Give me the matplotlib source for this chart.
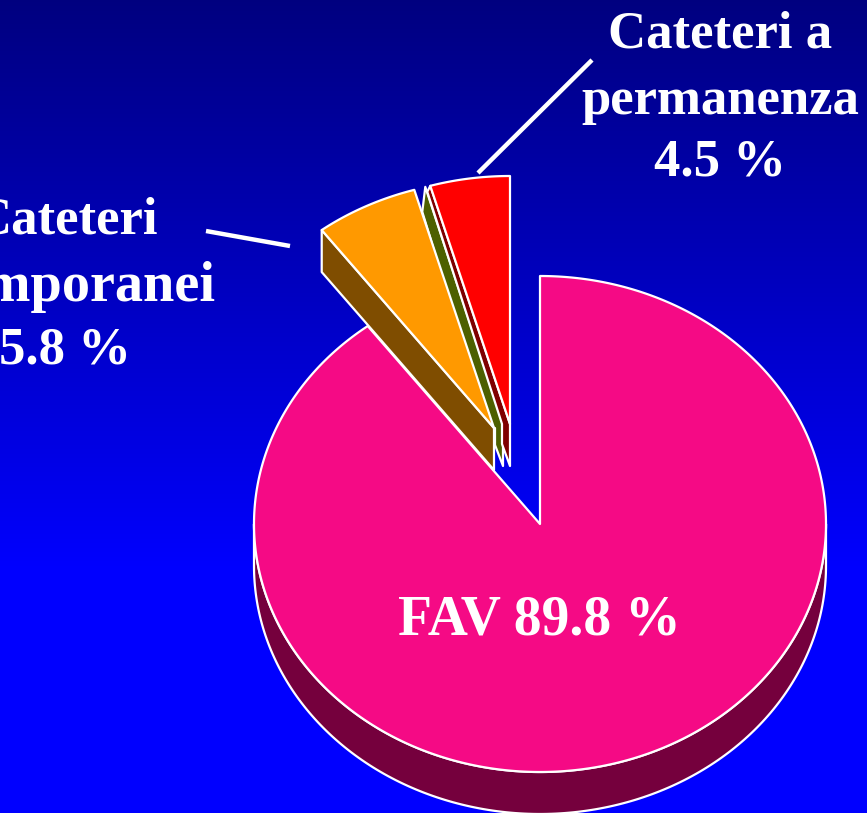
import numpy as np
import matplotlib
matplotlib.use("Agg")
import matplotlib.pyplot as plt
from matplotlib.patches import Polygon

# Values as printed on the slide
labels = ["FAV", "Cateteri\ntemporanei", "Cateteri a\npermanenza"]
values = [89.8, 5.8, 4.5]
face_colors = ["#F50A85", "#FF9900", "#FF0000"]
wall_colors = ["#75003D", "#7F4D00", "#7F0000"]
strip_color = "#4D6000"

# Pixel geometry of the fake 3D pie
CX, CY = 540, 524
RX, RY = 286, 248
DEPTH = 42
offsets = [(0, 0), (-46, -96), (-30, -100)]
WHITE = "#FFFFFF"
EDGE = 1.6

fig = plt.figure(figsize=(8.67, 8.13), dpi=100)
ax = fig.add_axes([0, 0, 1, 1])
ax.set_xlim(0, 867)
ax.set_ylim(813, 0)
ax.axis("off")

# Background gradient, navy at top to pure blue
grad = np.zeros((813, 1, 3))
grad[:, 0, 2] = np.clip(0.50 + 0.50 * np.arange(813) / 570, 0, 1)
ax.imshow(grad, extent=[0, 867, 813, 0], aspect="auto", zorder=0)


def pt(angle, dx=0, dy=0):
    # angle in degrees, clockwise from 12 o'clock
    a = np.radians(angle)
    return CX + dx + RX * np.sin(a), CY + dy - RY * np.cos(a)


def face(start, end, dx=0, dy=0):
    n = max(int(end - start) * 2, 2)
    arc = [pt(a, dx, dy) for a in np.linspace(start, end, n)]
    return [(CX + dx, CY + dy)] + arc


def add_poly(xy, color, z):
    ax.add_patch(Polygon(xy, closed=True, facecolor=color, edgecolor=WHITE,
                         linewidth=EDGE, joinstyle="round", zorder=z))


def shift(p, dx, dy):
    return p[0] + dx, p[1] + dy


angles = np.cumsum([0] + values) / sum(values) * 360
a0, a1, a2, a3 = angles

# FAV slice: curved outer wall then top face
front = [pt(a) for a in np.linspace(90, 270, 200)]
wall = front + [(x, y + DEPTH) for x, y in reversed(front)]
add_poly(wall, wall_colors[0], 2)
add_poly(face(a0, a1), face_colors[0], 3)

# Red slice with thin left wall, and the olive strip just beside it
dx, dy = offsets[2]
tip = (CX + dx, CY + dy)
edge_pt = pt(a2, dx, dy)
add_poly([shift(edge_pt, -5, 1), shift(tip, -7, 0), shift(tip, -7, DEPTH),
          shift(tip, -15, 21), shift(tip, -15, 4), shift(tip, -22, 4),
          shift(edge_pt, -8, 26)], strip_color, 4)
add_poly([shift(edge_pt, 0, 0), tip, shift(tip, 0, DEPTH), shift(tip, -8, 20),
          shift(tip, -8, 0), shift(edge_pt, -3, 6)], wall_colors[2], 5)
add_poly(face(a2, a3, dx, dy), face_colors[2], 6)

# Orange slice with its brown wall
dx, dy = offsets[1]
tip = (CX + dx, CY + dy)
edge_pt = pt(a1, dx, dy)
add_poly([edge_pt, tip, shift(tip, 0, DEPTH), shift(edge_pt, 0, DEPTH)],
         wall_colors[1], 7)
add_poly(face(a1, a2, dx, dy), face_colors[1], 8)

# Leader lines
ax.plot([478, 592], [173, 60], color=WHITE, lw=3.2, solid_capstyle="butt", zorder=9)
ax.plot([206, 290], [231, 246], color=WHITE, lw=3.2, solid_capstyle="butt", zorder=9)

# Labels
font = dict(family="Liberation Serif", fontweight="bold", color=WHITE, fontsize=38,
            ha="center", va="center", zorder=10)
ax.text(539, 620, f"{labels[0]} {values[0]} %", **{**font, "fontsize": 40})

left_lines = labels[1].split("\n")
ax.text(66, 220, left_lines[0], **font)
ax.text(215, 287, left_lines[1], **{**font, "ha": "right", "fontsize": 40.5})
ax.text(65, 350, f"{values[1]} %", **font)

right_lines = labels[2].split("\n")
ax.text(720, 35, right_lines[0], **font)
ax.text(720, 101, right_lines[1], **font)
ax.text(720, 162, f"{values[2]} %", **font)

fig.savefig("out.png", dpi=100)
